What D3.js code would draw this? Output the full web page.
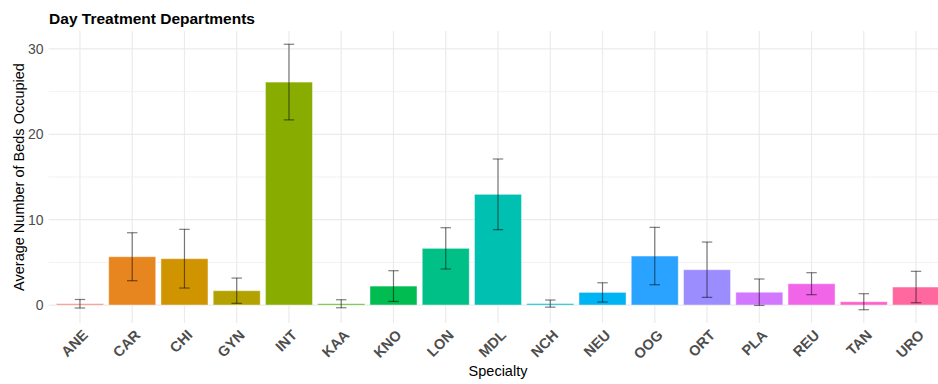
<!DOCTYPE html>
<html>
<head>
<meta charset="utf-8">
<script src="https://cdn.jsdelivr.net/npm/d3@7"></script>
<style>
  html, body { margin: 0; padding: 0; background: #fff; }
  svg { display: block; font-family: "Liberation Sans", Arial, sans-serif; }
</style>
</head>
<body>
<svg id="chart" width="938" height="384"></svg>
<script>
// Day treatment departments: mean beds occupied per specialty, with error bars
const specialties = ["ANE","CAR","CHI","GYN","INT","KAA","KNO","LON","MDL","NCH","NEU","OOG","ORT","PLA","REU","TAN","URO"];
const meanBeds    = [0.15, 5.66, 5.43, 1.68, 26.12, 0.15, 2.22, 6.64, 12.97, 0.17, 1.48, 5.74, 4.14, 1.50, 2.50, 0.39, 2.11];
const errBeds     = [0.50, 2.81, 3.44, 1.48, 4.43, 0.47, 1.80, 2.42, 4.14, 0.42, 1.13, 3.36, 3.24, 1.55, 1.29, 0.94, 1.84];
const yTicks      = [0, 10, 20, 30];

// ggplot-style hue palette (polar CIE-LUV, c = 100, l = 65)
function hclLuv(h, c, l) {
  const hr = h * Math.PI / 180;
  const U = c * Math.cos(hr), V = c * Math.sin(hr);
  const Xn = 95.047, Yn = 100, Zn = 108.883;
  const den = Xn + 15 * Yn + 3 * Zn;
  const un = 4 * Xn / den, vn = 9 * Yn / den;
  const Y = Yn * Math.pow((l + 16) / 116, 3);
  const u = U / (13 * l) + un, v = V / (13 * l) + vn;
  const X = Y * 9 * u / (4 * v);
  const Z = Y * (12 - 3 * u - 20 * v) / (4 * v);
  const x = X / 100, y = Y / 100, z = Z / 100;
  const lin = [
    3.2404542 * x - 1.5371385 * y - 0.4985314 * z,
   -0.9692660 * x + 1.8760108 * y + 0.0415560 * z,
    0.0556434 * x - 0.2040259 * y + 1.0572252 * z
  ];
  const g = lin.map(t => {
    const s = t <= 0.0031308 ? 12.92 * t : 1.055 * Math.pow(t, 1 / 2.4) - 0.055;
    return Math.round(Math.max(0, Math.min(1, s)) * 255);
  });
  return d3.rgb(g[0], g[1], g[2]).formatHex();
}
const n = specialties.length;
const palette = specialties.map((_, i) => hclLuv(15 + i * 360 / n, 100, 65));

const svg = d3.select("#chart");
const margin = { left: 48.6, right: 947.4, top: 31, bottom: 323 };

const x = d3.scaleBand()
  .domain(specialties)
  .range([margin.left, margin.right])
  .paddingInner(0.1)
  .paddingOuter(0.15);

const lo = d3.min(meanBeds.map((m, i) => m - errBeds[i]));
const hi = d3.max(meanBeds.map((m, i) => m + errBeds[i]));
const pad = (hi - lo) * 0.05;
const y = d3.scaleLinear()
  .domain([lo - pad, hi + pad])
  .range([margin.bottom, margin.top]);

// grid
const grid = svg.append("g");
const minor = d3.range(5, 35, 10).filter(v => v > y.domain()[0] && v < y.domain()[1]);
grid.selectAll("line.minor").data(minor).join("line")
  .attr("x1", margin.left).attr("x2", margin.right)
  .attr("y1", d => y(d)).attr("y2", d => y(d))
  .attr("stroke", "#F1F1F1").attr("stroke-width", 1);
grid.selectAll("line.major").data(yTicks).join("line")
  .attr("x1", margin.left).attr("x2", margin.right)
  .attr("y1", d => y(d)).attr("y2", d => y(d))
  .attr("stroke", "#EBEBEB").attr("stroke-width", 1.2);
grid.selectAll("line.vert").data(specialties).join("line")
  .attr("x1", d => x(d) + x.bandwidth() / 2).attr("x2", d => x(d) + x.bandwidth() / 2)
  .attr("y1", margin.top).attr("y2", margin.bottom)
  .attr("stroke", "#EBEBEB").attr("stroke-width", 1.2);

// bars
svg.append("g").selectAll("rect").data(specialties).join("rect")
  .attr("x", d => x(d))
  .attr("width", x.bandwidth())
  .attr("y", (d, i) => y(meanBeds[i]))
  .attr("height", (d, i) => y(0) - y(meanBeds[i]))
  .attr("fill", (d, i) => palette[i])
  .attr("stroke", "#ffffff")
  .attr("stroke-opacity", 0.45)
  .attr("stroke-width", 1);

// error bars
const capW = x.step() * 0.2;
const eb = svg.append("g").attr("stroke", "#000").attr("stroke-opacity", 0.5).attr("stroke-width", 1.2);
specialties.forEach((s, i) => {
  const cx = x(s) + x.bandwidth() / 2;
  const yTop = y(meanBeds[i] + errBeds[i]);
  const yBot = y(meanBeds[i] - errBeds[i]);
  eb.append("line").attr("x1", cx).attr("x2", cx).attr("y1", yTop).attr("y2", yBot);
  eb.append("line").attr("x1", cx - capW / 2).attr("x2", cx + capW / 2).attr("y1", yTop).attr("y2", yTop);
  eb.append("line").attr("x1", cx - capW / 2).attr("x2", cx + capW / 2).attr("y1", yBot).attr("y2", yBot);
});

// y axis labels
const yAxis = svg.append("g")
  .attr("transform", `translate(${margin.left - 5},0)`)
  .call(d3.axisLeft(y).tickValues(yTicks).tickSize(0).tickPadding(0));
yAxis.select(".domain").remove();
yAxis.selectAll("text")
  .attr("font-size", 14).attr("fill", "#4D4D4D")
  .attr("font-family", "Liberation Sans, Arial, sans-serif");

// x axis labels
const xAxis = svg.append("g")
  .attr("transform", `translate(0,${margin.bottom})`)
  .call(d3.axisBottom(x).tickSize(0).tickPadding(0));
xAxis.select(".domain").remove();
xAxis.selectAll("text")
  .attr("font-size", 14.5).attr("font-weight", "bold").attr("fill", "#4D4D4D")
  .attr("font-family", "Liberation Sans, Arial, sans-serif")
  .attr("text-anchor", "end")
  .attr("dy", null).attr("y", null)
  .attr("transform", "translate(9,13) rotate(-45)");

// titles
svg.append("text")
  .attr("x", margin.left + 0.5).attr("y", 24)
  .attr("font-size", 15.5).attr("font-weight", "bold").attr("fill", "#000")
  .text("Day Treatment Departments");

svg.append("text")
  .attr("x", (margin.left + margin.right) / 2).attr("y", 376)
  .attr("text-anchor", "middle").attr("font-size", 14.5).attr("fill", "#000")
  .text("Specialty");

svg.append("text")
  .attr("transform", `translate(23.5,${(margin.top + margin.bottom) / 2}) rotate(-90)`)
  .attr("text-anchor", "middle").attr("font-size", 14.5).attr("fill", "#000")
  .text("Average Number of Beds Occupied");
</script>
</body>
</html>
